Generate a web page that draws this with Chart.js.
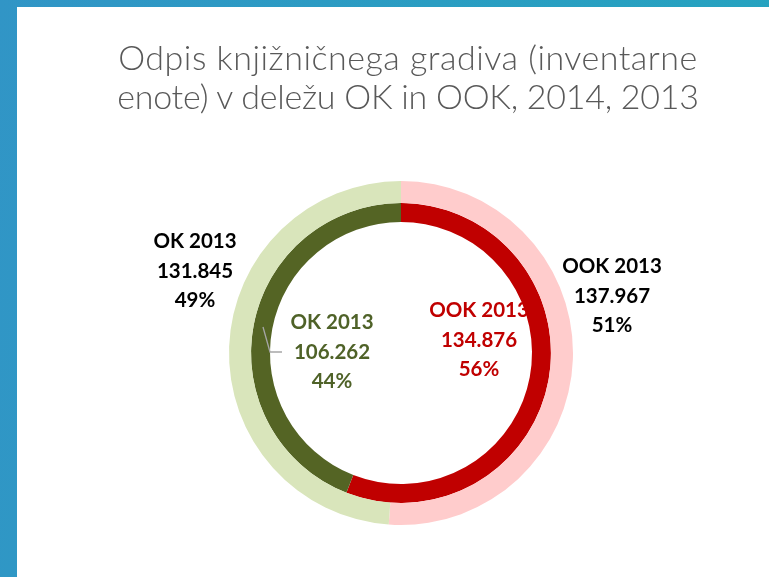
<!DOCTYPE html>
<html>
<head>
<meta charset="utf-8">
<script src="https://cdn.jsdelivr.net/npm/chart.js@4"></script>
<style>
  html, body { margin: 0; padding: 0; }
  body { width: 769px; height: 577px; overflow: hidden; position: relative;
         background: linear-gradient(100deg, #3195c6 0%, #2a9dc2 50%, #25a4bf 100%); }
  #panel { position: absolute; left: 17px; top: 7px; width: 752px; height: 570px; background: #ffffff; }
  #title { position: absolute; left: 58px; top: 37px; width: 700px; text-align: center;
           font-family: Lato, "Open Sans", sans-serif; font-weight: 300; font-size: 34px;
           line-height: 39px; color: #595959; }
  #title span { display: block; }
  #title span.l0 { letter-spacing: 0.5px; }
  #title span.l1 { letter-spacing: -0.25px; }
  #c { position: absolute; left: 0; top: 0; }
</style>
</head>
<body>
<div id="panel"></div>
<canvas id="c" width="769" height="577"></canvas>
<div id="title"></div>
<script>
// ---- data ----
const titleLines = ["Odpis knjižničnega gradiva (inventarne", "enote) v deležu OK in OOK, 2014, 2013"];
const categories = ["OOK", "OK"];
const outerLabels = ["OOK 2013", "OK 2013"];
const outerValues = [137967, 131845];
const innerLabels = ["OOK 2013", "OK 2013"];
const innerValues = [134876, 106262];

const titleEl = document.getElementById('title');
titleLines.forEach((t, i) => {
  const s = document.createElement('span');
  s.className = 'l' + i;
  s.textContent = t;
  titleEl.appendChild(s);
});

function fmt(v) { return String(v).replace(/\B(?=(\d{3})+(?!\d))/g, '.'); }

// label placement relative to chart centre (pixels), per dataset / slice
const labelOffsets = [
  [{dx: 211, dy: -57}, {dx: -206, dy: -82}],
  [{dx: 78, dy: -13}, {dx: -69, dy: -1}]
];
const labelColors = [
  ['#000000', '#000000'],
  ['#c00000', '#4f6228']
];

const labelPlugin = {
  id: 'ringLabels',
  afterDatasetsDraw(chart) {
    const ctx = chart.ctx;
    const meta0 = chart.getDatasetMeta(0);
    const cx = meta0.data[0].x, cy = meta0.data[0].y;
    ctx.save();
    // leader line for inner OK label
    ctx.strokeStyle = '#a6a6a6';
    ctx.lineWidth = 1.3;
    ctx.beginPath();
    ctx.moveTo(cx - 138, cy - 26);
    ctx.lineTo(cx - 131, cy - 1);
    ctx.lineTo(cx - 119, cy - 1);
    ctx.stroke();

    ctx.font = 'bold 20.5px Lato, "Open Sans", sans-serif';
    ctx.textAlign = 'center';
    ctx.textBaseline = 'middle';
    chart.data.datasets.forEach((ds, di) => {
      const sum = ds.data.reduce((a, b) => a + b, 0);
      ds.data.forEach((v, i) => {
        const off = labelOffsets[di][i];
        const x = cx + off.dx, y = cy + off.dy;
        const lines = [ds.labelNames[i], fmt(v), Math.round(v / sum * 100) + '%'];
        ctx.fillStyle = labelColors[di][i];
        lines.forEach((t, li) => ctx.fillText(t, x, y + (li - 1) * 29.5));
      });
    });
    ctx.restore();
  }
};

new Chart(document.getElementById('c'), {
  type: 'doughnut',
  data: {
    labels: categories,
    datasets: [
      { data: outerValues, labelNames: outerLabels, backgroundColor: ['#ffcccc', '#d9e5bb'],
        borderWidth: 0, weight: 22 },
      { data: innerValues, labelNames: innerLabels, backgroundColor: ['#c00000', '#546424'],
        borderWidth: 0, weight: 19 }
    ]
  },
  options: {
    responsive: false,
    animation: false,
    cutout: 131,
    radius: 172,
    layout: { padding: { left: 229, top: 181, right: 196, bottom: 52 } },
    plugins: { legend: { display: false }, tooltip: { enabled: false }, title: { display: false } }
  },
  plugins: [labelPlugin]
});
</script>
</body>
</html>
